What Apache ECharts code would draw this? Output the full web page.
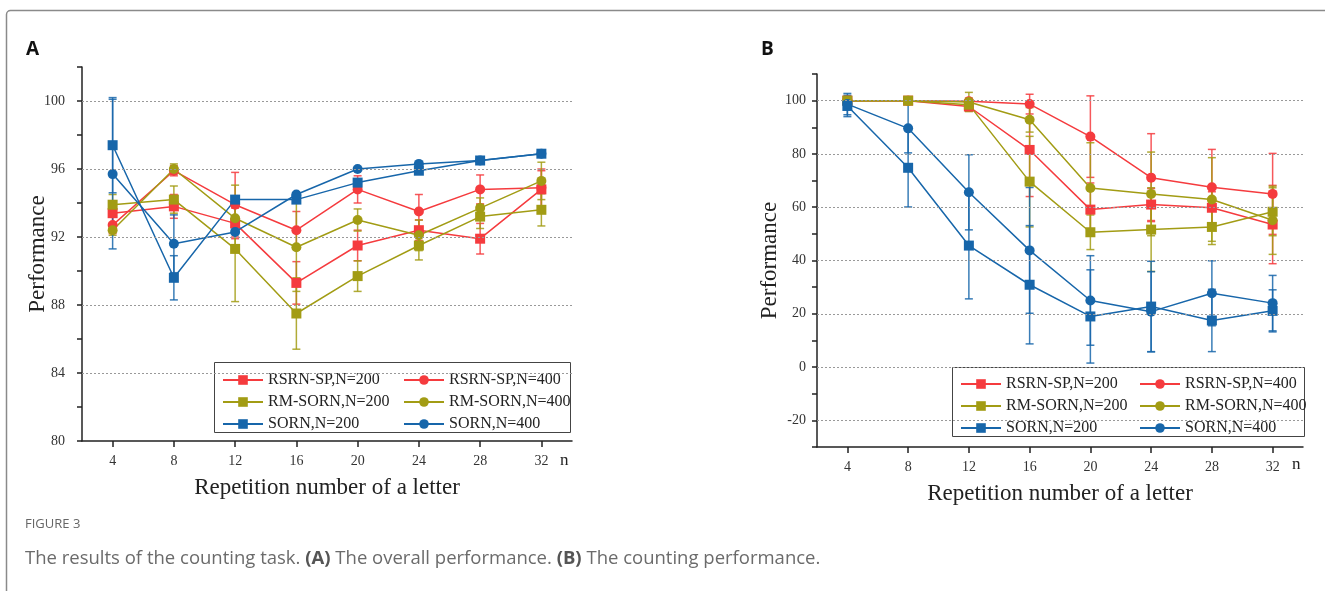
<!DOCTYPE html>
<html>
<head>
<meta charset="utf-8">
<script src="https://cdn.jsdelivr.net/npm/echarts@6/dist/echarts.min.js"></script>
<style>
html, body { margin: 0; padding: 0; background: #fff; }
#chart { width: 1325px; height: 591px; }
</style>
</head>
<body>
<div id="chart"></div>
<script>
const reps = [4, 8, 12, 16, 20, 24, 28, 32]

// panel A: overall performance
const aRsrn200 = [93.4, 93.8, 92.8, 89.3, 91.5, 92.4, 91.9, 94.8]
const aRsrn400 = [92.7, 95.9, 93.9, 92.4, 94.8, 93.5, 94.8, 94.9]
const aRm200 = [93.9, 94.2, 91.3, 87.5, 89.7, 91.5, 93.2, 93.6]
const aRm400 = [92.4, 96.0, 93.1, 91.4, 93.0, 92.1, 93.7, 95.3]
const aSorn200 = [97.4, 89.6, 94.2, 94.2, 95.2, 95.9, 96.5, 96.9]
const aSorn400 = [95.7, 91.6, 92.3, 94.5, 96.0, 96.3, 96.5, 96.9]
// error bars, +/-
const aRsrn200Err = [0.6, 0.7, 0.9, 1.25, 0.9, 0.6, 0.9, 1.1]
const aRsrn400Err = [0.5, 0.3, 1.9, 1.1, 0.8, 1.0, 0.85, 1.1]
const aRm200Err = [0.6, 0.8, 3.1, 2.1, 0.9, 0.85, 0.7, 0.95]
const aRm400Err = [0.3, 0.3, 1.95, 2.6, 0.65, 0.9, 0.6, 1.1]
const aSorn200Err = [2.8, 1.3, 0, 0, 0, 0, 0, 0]
const aSorn400Err = [4.4, 1.7, 0, 0, 0, 0, 0, 0]
const aTicks = [84, 88, 92, 96, 100]

// panel B: counting performance
const bRsrn200 = [100, 100, 97.8, 81.5, 59.1, 61.0, 59.8, 53.5]
const bRsrn400 = [100, 100, 99.8, 98.7, 86.5, 71.1, 67.5, 65.0]
const bRm200 = [100, 100, 98.5, 69.6, 50.6, 51.6, 52.6, 58.3]
const bRm400 = [100, 100, 99.5, 92.8, 67.2, 65.0, 62.9, 55.1]
const bSorn200 = [98.0, 74.8, 45.6, 30.9, 19.0, 22.7, 17.5, 21.1]
const bSorn400 = [98.7, 89.6, 65.6, 43.8, 25.0, 20.8, 27.7, 24.0]
const bRsrn200Err = [0, 0, 1.5, 17.5, 10, 6, 6, 14.7]
const bRsrn400Err = [0, 0, 0.5, 3.7, 15.3, 16.5, 14.2, 15.2]
const bRm200Err = [0, 0, 2.5, 17, 6.5, 15.7, 6.6, 9]
const bRm400Err = [0, 0, 3.6, 4.6, 17, 15.7, 15.7, 12.8]
const bSorn200Err = [4, 14.7, 20, 22.2, 17.5, 17, 11.7, 7.9]
const bSorn400Err = [4, 9.2, 14.1, 23.6, 16.8, 15, 12.2, 10.4]
const bTicks = [-20, 0, 20, 40, 60, 80, 100]

const RED = '#F53B3E'
const OLIVE = '#A29C14'
const BLUE = '#1766AA'
const SERIF = 'Liberation Serif'

function lineSeries(name, values, color, symbol, gi, grid) {
  const s = {
    name, type: 'line', xAxisIndex: gi, yAxisIndex: gi, z: 3,
    data: reps.map((r, i) => [r, values[i]]),
    symbol, symbolSize: 10,
    itemStyle: { color },
    lineStyle: { color, width: 1.5 }
  }
  if (grid) {
    s.markLine = {
      silent: true, symbol: 'none', animation: false,
      label: { show: false },
      lineStyle: { type: [2, 2], color: '#999', width: 1 },
      data: grid.map(v => ({ yAxis: v }))
    }
  }
  return s
}

function errSeries(name, values, errs, color, gi) {
  return {
    name, type: 'custom', xAxisIndex: gi, yAxisIndex: gi, z: 2,
    data: reps.map((r, i) => [r, values[i], errs[i]]),
    renderItem(params, api) {
      const x = api.value(0), y = api.value(1), e = api.value(2)
      if (!e) return
      const top = api.coord([x, y + e])
      const bot = api.coord([x, y - e])
      const style = { stroke: color, lineWidth: 1.5, opacity: 0.85 }
      return {
        type: 'group',
        children: [
          { type: 'line', shape: { x1: top[0], y1: top[1], x2: bot[0], y2: bot[1] }, style },
          { type: 'line', shape: { x1: top[0] - 4, y1: top[1], x2: top[0] + 4, y2: top[1] }, style },
          { type: 'line', shape: { x1: bot[0] - 4, y1: bot[1], x2: bot[0] + 4, y2: bot[1] }, style }
        ]
      }
    }
  }
}

function xAxis(gi) {
  return {
    type: 'value', gridIndex: gi, min: 2, max: 34,
    axisLine: { show: true, onZero: false, lineStyle: { color: '#222', width: 1.5 } },
    axisTick: { show: true, customValues: reps, length: 6, lineStyle: { color: '#222', width: 1.5 } },
    axisLabel: { customValues: reps, color: '#333', fontFamily: SERIF, fontSize: 14, margin: 13 },
    splitLine: { show: false },
    name: 'Repetition number of a letter', nameLocation: 'middle', nameGap: 35,
    nameTextStyle: { fontFamily: SERIF, fontSize: 23, color: '#222' }
  }
}

function yAxis(gi, min, max, step, labels, margin, nameGap, moveOverlap) {
  return {
    type: 'value', gridIndex: gi, min, max, interval: step,
    axisLine: { show: true, lineStyle: { color: '#222', width: 1.5 } },
    axisTick: { show: true, length: 5, lineStyle: { color: '#222', width: 1.5 } },
    axisLabel: {
      color: '#333', fontFamily: SERIF, fontSize: 14, margin,
      formatter: v => labels.includes(v) ? String(v) : ''
    },
    splitLine: { show: false },
    name: 'Performance', nameLocation: 'middle', nameRotate: 90, nameGap,
    nameMoveOverlap: moveOverlap,
    nameTextStyle: { fontFamily: SERIF, fontSize: 23, color: '#222' }
  }
}

const legendText = { fontFamily: SERIF, fontSize: 16, color: '#222' }
function legend(left, top, data) {
  return {
    orient: 'vertical', left, top, itemWidth: 40, itemHeight: 12, itemGap: 6,
    textStyle: legendText, data, selectedMode: false
  }
}

const chart = echarts.init(document.getElementById('chart'))
chart.setOption({
  animation: false,
  grid: [
    { left: 82, top: 67, width: 490, height: 374 },
    { left: 817, top: 74, width: 486, height: 373 }
  ],
  xAxis: [xAxis(0), xAxis(1)],
  yAxis: [
    yAxis(0, 80, 102, 2, [80, 84, 88, 92, 96, 100], 17, 33, false),
    yAxis(1, -30, 110, 10, [-20, 0, 20, 40, 60, 80, 100], 11, 36, true)
  ],
  legend: [
    legend(217, 367, ['RSRN-SP,N=200', 'RM-SORN,N=200', 'SORN,N=200']),
    legend(398, 367, ['RSRN-SP,N=400', 'RM-SORN,N=400', 'SORN,N=400']),
    legend(955, 371, ['RSRN-SP,N=200', 'RM-SORN,N=200', 'SORN,N=200']),
    legend(1134, 371, ['RSRN-SP,N=400', 'RM-SORN,N=400', 'SORN,N=400'])
  ],
  series: [
    lineSeries('RSRN-SP,N=200', aRsrn200, RED, 'rect', 0, aTicks),
    lineSeries('RSRN-SP,N=400', aRsrn400, RED, 'circle', 0),
    lineSeries('RM-SORN,N=200', aRm200, OLIVE, 'rect', 0),
    lineSeries('RM-SORN,N=400', aRm400, OLIVE, 'circle', 0),
    lineSeries('SORN,N=200', aSorn200, BLUE, 'rect', 0),
    lineSeries('SORN,N=400', aSorn400, BLUE, 'circle', 0),
    lineSeries('RSRN-SP,N=200', bRsrn200, RED, 'rect', 1, bTicks),
    lineSeries('RSRN-SP,N=400', bRsrn400, RED, 'circle', 1),
    lineSeries('RM-SORN,N=200', bRm200, OLIVE, 'rect', 1),
    lineSeries('RM-SORN,N=400', bRm400, OLIVE, 'circle', 1),
    lineSeries('SORN,N=200', bSorn200, BLUE, 'rect', 1),
    lineSeries('SORN,N=400', bSorn400, BLUE, 'circle', 1),
    errSeries('RSRN-SP,N=200', aRsrn200, aRsrn200Err, RED, 0),
    errSeries('RSRN-SP,N=400', aRsrn400, aRsrn400Err, RED, 0),
    errSeries('RM-SORN,N=200', aRm200, aRm200Err, OLIVE, 0),
    errSeries('RM-SORN,N=400', aRm400, aRm400Err, OLIVE, 0),
    errSeries('SORN,N=200', aSorn200, aSorn200Err, BLUE, 0),
    errSeries('SORN,N=400', aSorn400, aSorn400Err, BLUE, 0),
    errSeries('RSRN-SP,N=200', bRsrn200, bRsrn200Err, RED, 1),
    errSeries('RSRN-SP,N=400', bRsrn400, bRsrn400Err, RED, 1),
    errSeries('RM-SORN,N=200', bRm200, bRm200Err, OLIVE, 1),
    errSeries('RM-SORN,N=400', bRm400, bRm400Err, OLIVE, 1),
    errSeries('SORN,N=200', bSorn200, bSorn200Err, BLUE, 1),
    errSeries('SORN,N=400', bSorn400, bSorn400Err, BLUE, 1)
  ],
  graphic: [
    // figure frame (left and top edges only visible)
    { type: 'rect', left: 4, top: 8, shape: { width: 1400, height: 620, r: 4 },
      style: { fill: 'none', stroke: '#8a8a8a', lineWidth: 1.5 }, z: 0 },
    // legend boxes
    { type: 'rect', left: 214, top: 362, shape: { width: 356, height: 70 },
      style: { fill: '#fff', stroke: '#444', lineWidth: 1 }, z: 4 },
    { type: 'rect', left: 952, top: 367, shape: { width: 352, height: 69 },
      style: { fill: '#fff', stroke: '#444', lineWidth: 1 }, z: 4 },
    { type: 'text', left: 26, top: 40, z: 5,
      style: { text: 'A', font: 'bold 19px "Open Sans"', fill: '#111' } },
    { type: 'text', left: 761, top: 40, z: 5,
      style: { text: 'B', font: 'bold 19px "Open Sans"', fill: '#111' } },
    { type: 'text', left: 560, top: 452, z: 5,
      style: { text: 'n', font: '17px "Liberation Serif"', fill: '#222' } },
    { type: 'text', left: 1292, top: 456, z: 5,
      style: { text: 'n', font: '17px "Liberation Serif"', fill: '#222' } },
    { type: 'text', left: 25, top: 518, z: 5,
      style: { text: 'FIGURE 3', font: '13px "Open Sans"', fill: '#666' } },
    { type: 'text', left: 25, top: 549, z: 5,
      style: {
        text: 'The results of the counting task. {b|(A)} The overall performance. {b|(B)} The counting performance.',
        font: '18.5px "Open Sans"', fill: '#6b6b6b',
        rich: { b: { font: 'bold 18.5px "Open Sans"', fill: '#555' } }
      } }
  ]
})
</script>
</body>
</html>
